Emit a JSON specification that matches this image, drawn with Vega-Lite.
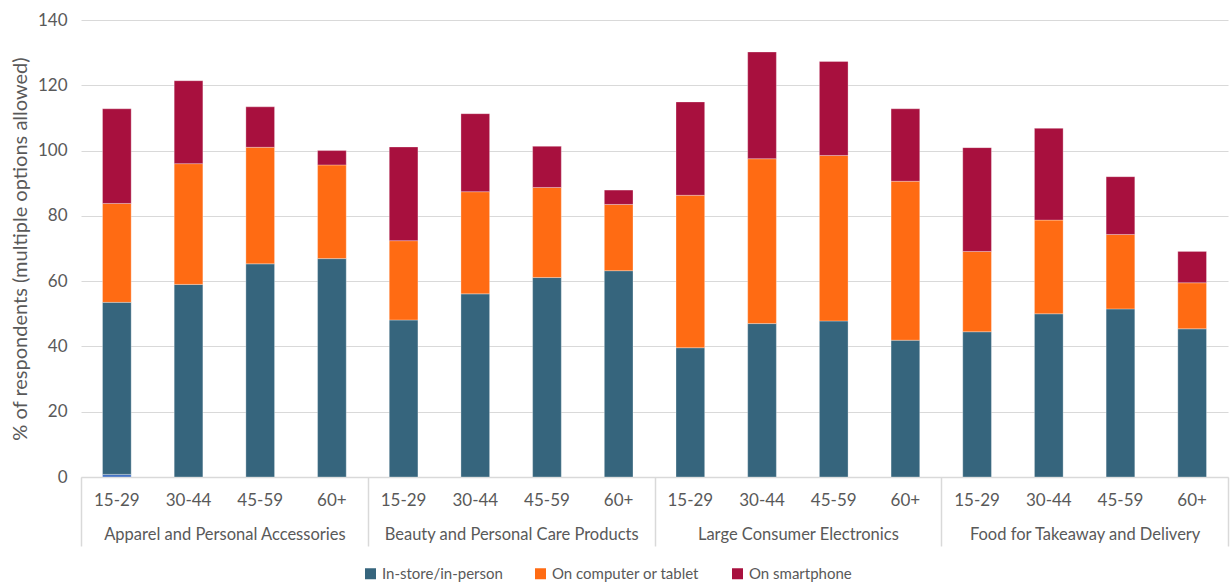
{
  "$schema": "https://vega.github.io/schema/vega-lite/v6.json",
  "autosize": {"type": "none"},
  "padding": {"left": 81, "top": 20, "right": 3, "bottom": 106},
  "width": 1147,
  "height": 457,
  "background": "white",
  "config": {
    "font": "Lato",
    "view": {"stroke": null},
    "axis": {"labelFont": "Lato", "titleFont": "Lato", "labelColor": "#595959", "titleColor": "#595959"},
    "legend": {"labelFont": "Lato"}
  },
  "data": {
    "values": [
      {"category": "Apparel and Personal Accessories", "age": "15-29", "key": "Apparel and Personal Accessories|15-29", "channel": "(unlabelled)", "value": 0.8},
      {"category": "Apparel and Personal Accessories", "age": "15-29", "key": "Apparel and Personal Accessories|15-29", "channel": "In-store/in-person", "value": 52.7},
      {"category": "Apparel and Personal Accessories", "age": "15-29", "key": "Apparel and Personal Accessories|15-29", "channel": "On computer or tablet", "value": 30.3},
      {"category": "Apparel and Personal Accessories", "age": "15-29", "key": "Apparel and Personal Accessories|15-29", "channel": "On smartphone", "value": 29.0},
      {"category": "Apparel and Personal Accessories", "age": "30-44", "key": "Apparel and Personal Accessories|30-44", "channel": "In-store/in-person", "value": 59.0},
      {"category": "Apparel and Personal Accessories", "age": "30-44", "key": "Apparel and Personal Accessories|30-44", "channel": "On computer or tablet", "value": 37.0},
      {"category": "Apparel and Personal Accessories", "age": "30-44", "key": "Apparel and Personal Accessories|30-44", "channel": "On smartphone", "value": 25.4},
      {"category": "Apparel and Personal Accessories", "age": "45-59", "key": "Apparel and Personal Accessories|45-59", "channel": "In-store/in-person", "value": 65.3},
      {"category": "Apparel and Personal Accessories", "age": "45-59", "key": "Apparel and Personal Accessories|45-59", "channel": "On computer or tablet", "value": 35.7},
      {"category": "Apparel and Personal Accessories", "age": "45-59", "key": "Apparel and Personal Accessories|45-59", "channel": "On smartphone", "value": 12.4},
      {"category": "Apparel and Personal Accessories", "age": "60+", "key": "Apparel and Personal Accessories|60+", "channel": "In-store/in-person", "value": 66.9},
      {"category": "Apparel and Personal Accessories", "age": "60+", "key": "Apparel and Personal Accessories|60+", "channel": "On computer or tablet", "value": 28.7},
      {"category": "Apparel and Personal Accessories", "age": "60+", "key": "Apparel and Personal Accessories|60+", "channel": "On smartphone", "value": 4.4},
      {"category": "Beauty and Personal Care Products", "age": "15-29", "key": "Beauty and Personal Care Products|15-29", "channel": "In-store/in-person", "value": 48.1},
      {"category": "Beauty and Personal Care Products", "age": "15-29", "key": "Beauty and Personal Care Products|15-29", "channel": "On computer or tablet", "value": 24.3},
      {"category": "Beauty and Personal Care Products", "age": "15-29", "key": "Beauty and Personal Care Products|15-29", "channel": "On smartphone", "value": 28.7},
      {"category": "Beauty and Personal Care Products", "age": "30-44", "key": "Beauty and Personal Care Products|30-44", "channel": "In-store/in-person", "value": 56.1},
      {"category": "Beauty and Personal Care Products", "age": "30-44", "key": "Beauty and Personal Care Products|30-44", "channel": "On computer or tablet", "value": 31.3},
      {"category": "Beauty and Personal Care Products", "age": "30-44", "key": "Beauty and Personal Care Products|30-44", "channel": "On smartphone", "value": 23.9},
      {"category": "Beauty and Personal Care Products", "age": "45-59", "key": "Beauty and Personal Care Products|45-59", "channel": "In-store/in-person", "value": 61.1},
      {"category": "Beauty and Personal Care Products", "age": "45-59", "key": "Beauty and Personal Care Products|45-59", "channel": "On computer or tablet", "value": 27.6},
      {"category": "Beauty and Personal Care Products", "age": "45-59", "key": "Beauty and Personal Care Products|45-59", "channel": "On smartphone", "value": 12.6},
      {"category": "Beauty and Personal Care Products", "age": "60+", "key": "Beauty and Personal Care Products|60+", "channel": "In-store/in-person", "value": 63.2},
      {"category": "Beauty and Personal Care Products", "age": "60+", "key": "Beauty and Personal Care Products|60+", "channel": "On computer or tablet", "value": 20.3},
      {"category": "Beauty and Personal Care Products", "age": "60+", "key": "Beauty and Personal Care Products|60+", "channel": "On smartphone", "value": 4.4},
      {"category": "Large Consumer Electronics", "age": "15-29", "key": "Large Consumer Electronics|15-29", "channel": "In-store/in-person", "value": 39.6},
      {"category": "Large Consumer Electronics", "age": "15-29", "key": "Large Consumer Electronics|15-29", "channel": "On computer or tablet", "value": 46.7},
      {"category": "Large Consumer Electronics", "age": "15-29", "key": "Large Consumer Electronics|15-29", "channel": "On smartphone", "value": 28.6},
      {"category": "Large Consumer Electronics", "age": "30-44", "key": "Large Consumer Electronics|30-44", "channel": "In-store/in-person", "value": 47.0},
      {"category": "Large Consumer Electronics", "age": "30-44", "key": "Large Consumer Electronics|30-44", "channel": "On computer or tablet", "value": 50.5},
      {"category": "Large Consumer Electronics", "age": "30-44", "key": "Large Consumer Electronics|30-44", "channel": "On smartphone", "value": 32.7},
      {"category": "Large Consumer Electronics", "age": "45-59", "key": "Large Consumer Electronics|45-59", "channel": "In-store/in-person", "value": 47.8},
      {"category": "Large Consumer Electronics", "age": "45-59", "key": "Large Consumer Electronics|45-59", "channel": "On computer or tablet", "value": 50.7},
      {"category": "Large Consumer Electronics", "age": "45-59", "key": "Large Consumer Electronics|45-59", "channel": "On smartphone", "value": 28.8},
      {"category": "Large Consumer Electronics", "age": "60+", "key": "Large Consumer Electronics|60+", "channel": "In-store/in-person", "value": 41.9},
      {"category": "Large Consumer Electronics", "age": "60+", "key": "Large Consumer Electronics|60+", "channel": "On computer or tablet", "value": 48.7},
      {"category": "Large Consumer Electronics", "age": "60+", "key": "Large Consumer Electronics|60+", "channel": "On smartphone", "value": 22.2},
      {"category": "Food for Takeaway and Delivery", "age": "15-29", "key": "Food for Takeaway and Delivery|15-29", "channel": "In-store/in-person", "value": 44.5},
      {"category": "Food for Takeaway and Delivery", "age": "15-29", "key": "Food for Takeaway and Delivery|15-29", "channel": "On computer or tablet", "value": 24.6},
      {"category": "Food for Takeaway and Delivery", "age": "15-29", "key": "Food for Takeaway and Delivery|15-29", "channel": "On smartphone", "value": 31.8},
      {"category": "Food for Takeaway and Delivery", "age": "30-44", "key": "Food for Takeaway and Delivery|30-44", "channel": "In-store/in-person", "value": 50.0},
      {"category": "Food for Takeaway and Delivery", "age": "30-44", "key": "Food for Takeaway and Delivery|30-44", "channel": "On computer or tablet", "value": 28.7},
      {"category": "Food for Takeaway and Delivery", "age": "30-44", "key": "Food for Takeaway and Delivery|30-44", "channel": "On smartphone", "value": 28.1},
      {"category": "Food for Takeaway and Delivery", "age": "45-59", "key": "Food for Takeaway and Delivery|45-59", "channel": "In-store/in-person", "value": 51.5},
      {"category": "Food for Takeaway and Delivery", "age": "45-59", "key": "Food for Takeaway and Delivery|45-59", "channel": "On computer or tablet", "value": 22.8},
      {"category": "Food for Takeaway and Delivery", "age": "45-59", "key": "Food for Takeaway and Delivery|45-59", "channel": "On smartphone", "value": 17.7},
      {"category": "Food for Takeaway and Delivery", "age": "60+", "key": "Food for Takeaway and Delivery|60+", "channel": "In-store/in-person", "value": 45.4},
      {"category": "Food for Takeaway and Delivery", "age": "60+", "key": "Food for Takeaway and Delivery|60+", "channel": "On computer or tablet", "value": 14.1},
      {"category": "Food for Takeaway and Delivery", "age": "60+", "key": "Food for Takeaway and Delivery|60+", "channel": "On smartphone", "value": 9.6}
    ]
  },
  "layer": [
    {
      "mark": {"type": "bar", "stroke": "white", "strokeWidth": 0.6, "strokeOpacity": 0.5},
      "encoding": {
        "x": {
          "field": "key", "type": "nominal", "sort": null,
          "scale": {"paddingInner": 0.6, "paddingOuter": 0.3},
          "axis": {
            "title": null, "orient": "bottom", "labelAngle": 0,
            "labelExpr": "split(datum.value, '|')[1]",
            "labelFontSize": 17, "labelPadding": 15,
            "ticks": false, "tickSize": 0,
            "domain": true, "domainColor": "#d9d9d9", "domainWidth": 1.5
          }
        },
        "y": {
          "field": "value", "type": "quantitative", "stack": "zero",
          "scale": {"domain": [0, 140], "nice": false},
          "axis": {
            "title": "% of respondents (multiple options allowed)",
            "titleFontSize": 20, "titleFontWeight": "normal", "titlePadding": 7,
            "values": [0, 20, 40, 60, 80, 100, 120, 140],
            "labelFontSize": 17, "labelPadding": 14,
            "grid": true, "gridColor": "#d9d9d9", "gridWidth": 1.2,
            "domain": false, "ticks": false
          }
        },
        "order": {"field": "channel", "type": "nominal", "sort": "ascending"},
        "color": {
          "field": "channel", "type": "nominal",
          "scale": {
            "domain": ["(unlabelled)", "In-store/in-person", "On computer or tablet", "On smartphone"],
            "range": ["#4472C4", "#36657D", "#FF6B13", "#A8103E"]
          },
          "legend": {
            "title": null,
            "values": ["In-store/in-person", "On computer or tablet", "On smartphone"],
            "orient": "none", "direction": "horizontal",
            "legendX": 282, "legendY": 546,
            "symbolType": "square", "symbolSize": 121, "symbolStrokeWidth": 0,
            "labelFontSize": 15, "labelColor": "#595959", "labelOffset": 4,
            "columnPadding": 30
          }
        }
      }
    },
    {
      "mark": {"type": "rule", "opacity": 0},
      "encoding": {
        "x": {
          "field": "category", "type": "nominal", "sort": null,
          "scale": {"paddingInner": 0, "paddingOuter": 0},
          "axis": {
            "title": null, "orient": "bottom", "labelAngle": 0,
            "labelFontSize": 16.5, "labelPadding": -20, "labelLimit": 0,
            "domain": false, "ticks": true, "tickBand": "extent",
            "tickSize": 69, "tickColor": "#d9d9d9", "tickWidth": 1.5
          }
        }
      }
    }
  ],
  "resolve": {"scale": {"x": "independent"}, "axis": {"x": "independent"}}
}
